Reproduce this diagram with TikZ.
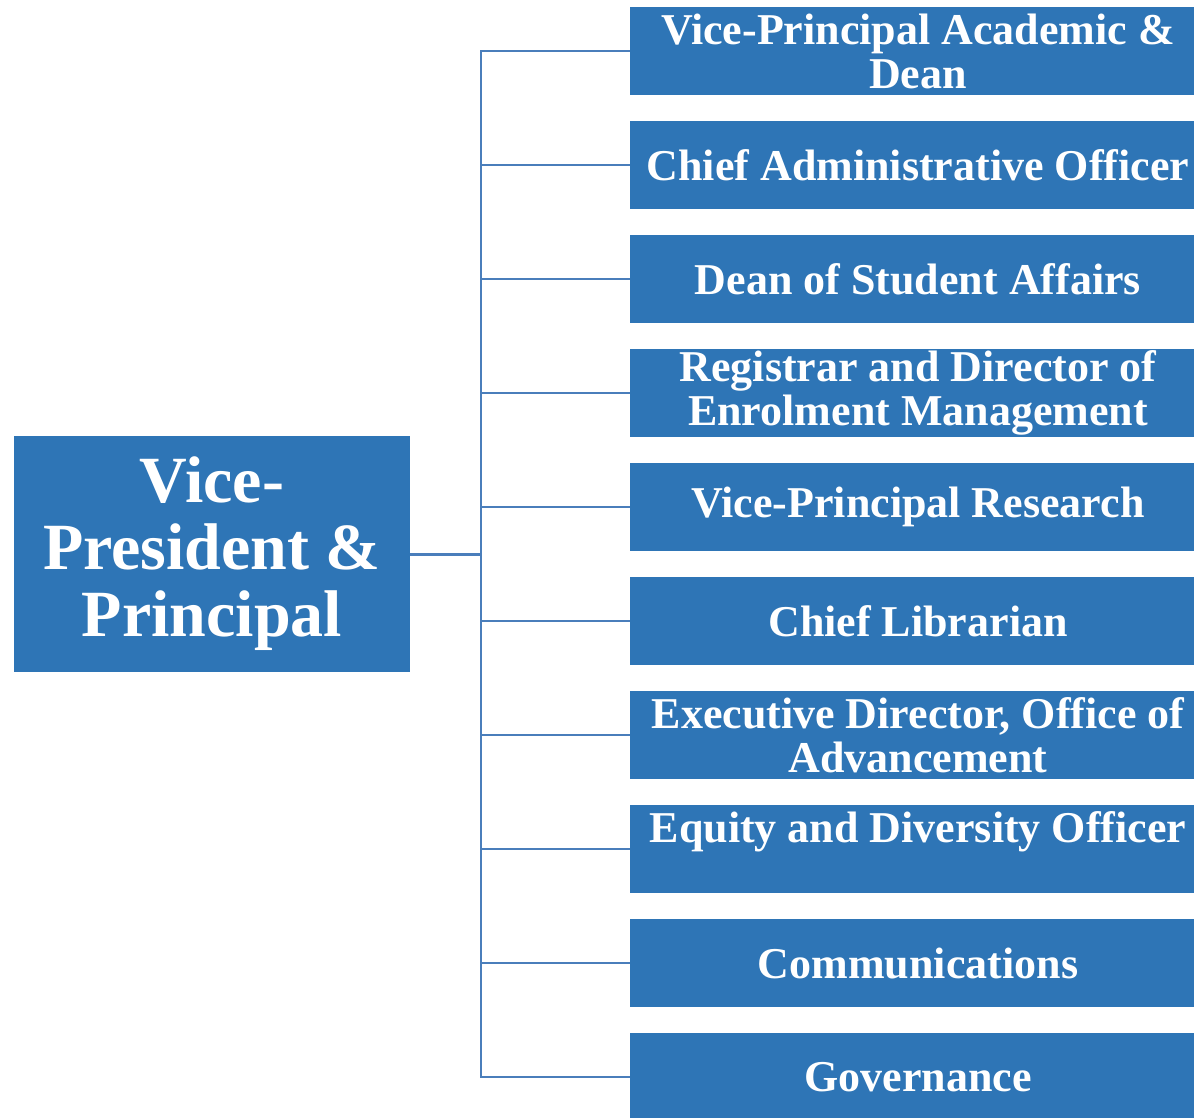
\documentclass[tikz,border=0pt]{standalone}
\usepackage{fontspec}
\setmainfont{Liberation Serif}
\definecolor{boxblue}{HTML}{2E75B6}
\definecolor{linkblue}{HTML}{4A7EBB}
\begin{document}
\begin{tikzpicture}[x=0.5pt,y=-0.5pt,
  post/.style={fill=boxblue,text=white,font=\bfseries\fontsize{22}{22}\selectfont,
    minimum width=288pt,minimum height=44pt,align=center,inner sep=0pt},
  link/.style={draw=linkblue,line width=1pt}]
  \useasboundingbox (0,0) rectangle (1194,1118);
  \node[fill=boxblue,text=white,font=\bfseries\fontsize{33}{33.5}\selectfont,
    minimum width=198pt,minimum height=118pt,align=center,inner sep=0pt] (vp) at (212,554)
    {Vice-\\President \&\\Principal};
  \foreach \i/\t in {1/{Vice-Principal Academic \&\\Dean},
      2/{Chief Administrative Officer},
      3/{Dean of Student Affairs},
      4/{Registrar and Director of\\Enrolment Management},
      5/{Vice-Principal Research},
      6/{Chief Librarian},
      7/{Executive Director, Office of\\Advancement},
      8/{Equity and Diversity Officer\\\mbox{}},
      9/{Communications},
      10/{Governance}}
    \node[post] (r\i) at (918,{51+114*(\i-1)}) {\t};
  \coordinate (hub) at (481,554);
  \draw[link,line width=1.5pt] (vp.east) -- (hub);
  \foreach \i in {1,...,10}
    \draw[link] (hub) |- (r\i.west);
\end{tikzpicture}
\end{document}
